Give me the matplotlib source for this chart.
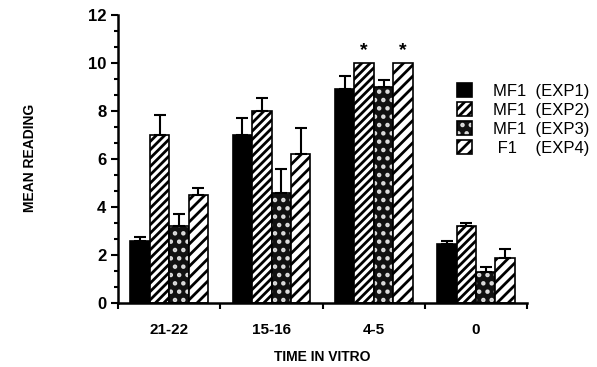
import matplotlib.pyplot as plt
import numpy as np
from matplotlib.ticker import MultipleLocator
from matplotlib.patches import Patch
from matplotlib.legend_handler import HandlerTuple

plt.rcParams['font.family'] = ['Liberation Sans', 'DejaVu Sans']
plt.rcParams['hatch.linewidth'] = 2.0

groups = ["21-22", "15-16", "4-5", "0"]
labels = ["MF1  (EXP1)", "MF1  (EXP2)", "MF1  (EXP3)", " F1    (EXP4)"]
exp1 = [2.6, 7.0, 8.9, 2.45]
exp2 = [7.0, 8.0, 10.0, 3.2]
exp3 = [3.2, 4.6, 9.0, 1.3]
exp4 = [4.5, 6.2, 10.0, 1.9]
err1 = [0.15, 0.7, 0.55, 0.15]
err2 = [0.85, 0.55, 0.0, 0.15]
err3 = [0.5, 1.0, 0.3, 0.2]
err4 = [0.3, 1.1, 0.0, 0.35]
stars = [(2, 1), (2, 3)]  # (group, series) marked significant

series = [exp1, exp2, exp3, exp4]
errors = [err1, err2, err3, err4]
# face, hatch, hatch colour
styles = [("black", None, "black"),
          ("white", "////", "black"),
          ("#111111", "..", "#dddddd"),
          ("white", "///", "black")]

fig = plt.figure(figsize=(5.97, 3.67), dpi=100)
ax = fig.add_axes([0.198, 0.174, 0.685, 0.785])

x = np.arange(len(groups)) + 0.5
w = 0.19
for i, (vals, errs, (fc, hatch, hc)) in enumerate(zip(series, errors, styles)):
    pos = x + (i - 1.5) * w
    ax.bar(pos, vals, w, color=fc, hatch=hatch, edgecolor=hc, linewidth=0)
    ax.bar(pos, vals, w, fill=False, edgecolor="black", linewidth=1.2)
    e = np.array(errs)
    mask = e > 0
    ax.errorbar(pos[mask], np.array(vals)[mask], yerr=[np.zeros(mask.sum()), e[mask]],
                fmt="none", ecolor="black", elinewidth=1.5, capsize=4, capthick=1.5)

for g, s in stars:
    ax.text(x[g] + (s - 1.5) * w, series[s][g] + 0.15, "*", ha="center", va="bottom",
            fontsize=14, fontweight="bold")

ax.set_xlim(0, 4)
ax.set_ylim(0, 12)
ax.set_xticks([0, 1, 2, 3, 4])
ax.set_xticklabels([])
ax.set_xticks(x, minor=True)
ax.set_xticklabels(groups, minor=True, fontsize=11, fontweight="bold")
ax.tick_params(axis="x", which="minor", length=0, pad=14)
ax.tick_params(axis="x", which="major", length=4, width=1.5, direction="out")
ax.yaxis.set_major_locator(MultipleLocator(2))
ax.yaxis.set_minor_locator(MultipleLocator(2 / 3))
ax.tick_params(axis="y", which="major", length=5, width=1.5, labelsize=12)
ax.tick_params(axis="y", which="minor", length=3, width=1.5)
for lab in ax.get_yticklabels():
    lab.set_fontweight("bold")

ax.spines["top"].set_visible(False)
ax.spines["right"].set_visible(False)
ax.spines["left"].set_linewidth(1.8)
ax.spines["bottom"].set_linewidth(1.8)

ax.set_xlabel("TIME IN VITRO", fontsize=10, fontweight="bold", labelpad=10)
fig.text(0.05, 0.57, "MEAN READING", rotation=90, ha="center", va="center",
         fontsize=10, fontweight="bold")

handles = [(Patch(facecolor=fc, hatch=hatch, edgecolor=hc, linewidth=0),
            Patch(fill=False, edgecolor="black", linewidth=1.2))
           for fc, hatch, hc in styles]
fig.legend(handles, labels, loc="upper left", bbox_to_anchor=(0.74, 0.815), frameon=False,
           fontsize=12, handlelength=0.9, handleheight=0.9, labelspacing=0.2,
           handletextpad=1.3, handler_map={tuple: HandlerTuple(ndivide=1, pad=0)})

fig.savefig("out.png", dpi=100)
